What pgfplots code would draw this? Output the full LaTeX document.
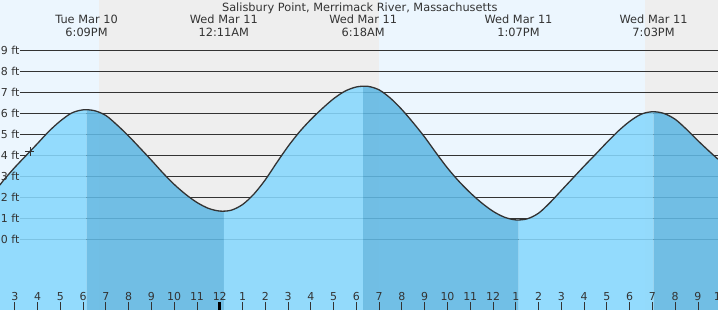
\documentclass[border=0pt]{standalone}
\usepackage{pgfplots}
\pgfplotsset{compat=1.18}
\usepgfplotslibrary{fillbetween}
\usepackage{pgfplotstable}
\usepackage{fontspec}
\setmainfont{DejaVu Sans}
\definecolor{daybg}{RGB}{236,246,254}
\definecolor{nightbg}{RGB}{238,238,238}
\definecolor{wlight}{RGB}{135,216,253}
\definecolor{wdark}{RGB}{96,184,227}
\definecolor{ink}{RGB}{51,51,51}
\tikzset{fill between/on layer=main}
\newcommand\lab{\fontsize{11.4}{13}\selectfont}
\newcommand\ylab{\fontsize{11}{13}\selectfont}

\pgfplotstableread{
t h
14.35 2.57
14.5 2.79
15.0 3.41
15.5 3.98
16.0 4.55
16.5 5.13
17.0 5.62
17.5 6.00
18.0 6.15
18.5 6.11
19.0 5.88
19.5 5.42
20.0 4.90
20.5 4.33
21.0 3.75
21.5 3.15
22.0 2.60
22.5 2.13
23.0 1.74
23.5 1.46
24.0 1.33
24.5 1.37
25.0 1.64
25.5 2.14
26.0 2.82
26.5 3.63
27.0 4.41
27.5 5.10
28.0 5.69
28.5 6.21
29.0 6.68
29.5 7.04
30.0 7.24
30.5 7.27
31.0 7.10
31.5 6.70
32.0 6.16
32.5 5.53
33.0 4.85
33.5 4.10
34.0 3.38
34.5 2.75
35.0 2.20
35.5 1.72
36.0 1.32
36.5 1.04
37.0 0.91
37.5 0.96
38.0 1.23
38.5 1.73
39.0 2.31
39.5 2.89
40.0 3.47
40.5 4.03
41.0 4.60
41.5 5.14
42.0 5.60
42.5 5.94
43.0 6.06
43.5 5.98
44.0 5.70
44.5 5.22
45.0 4.68
45.5 4.17
45.88 3.80
}\tidedata

\begin{document}
\begin{tikzpicture}
\begin{axis}[
 width=718bp, height=310bp, scale only axis,
 xmin=14.35, xmax=45.88, ymin=-3.38, ymax=11.38,
 axis x line*=bottom, axis y line=none,
 x axis line style={draw=none},
 xtick={15,...,45}, xticklabels={},
 extra x ticks={24}, extra x tick labels={},
 extra x tick style={major tick style={line width=3bp, color=black}},
 ytick=\empty,
 tick align=inside, major tick length=8bp,
 major tick style={line width=0.9bp, color=ink},
 axis on top,
]
% day / night background
\addplot[draw=none, fill=daybg] coordinates {(14.35,-3.38) (14.35,11.38) (18.70,11.38) (18.70,-3.38)} -- cycle;
\addplot[draw=none, fill=nightbg] coordinates {(18.70,-3.38) (18.70,11.38) (31.00,11.38) (31.00,-3.38)} -- cycle;
\addplot[draw=none, fill=daybg] coordinates {(31.00,-3.38) (31.00,11.38) (42.68,11.38) (42.68,-3.38)} -- cycle;
\addplot[draw=none, fill=nightbg] coordinates {(42.68,-3.38) (42.68,11.38) (45.88,11.38) (45.88,-3.38)} -- cycle;
% grid lines
\pgfplotsinvokeforeach{0,...,9}{\addplot[ink, line width=0.9bp] coordinates {(15.228,#1) (45.88,#1)};}
% water
\addplot[draw=none, name path=tide, smooth] table[x=t,y=h]{\tidedata};
\addplot[draw=none, name path=bot] coordinates {(14.35,-3.38) (45.88,-3.38)};
\addplot[draw=none, fill=wlight, fill opacity=0.88] fill between[of=tide and bot, soft clip={domain=14.35:18.15}];
\addplot[draw=none, fill=wdark, fill opacity=0.88] fill between[of=tide and bot, soft clip={domain=18.15:24.18}];
\addplot[draw=none, fill=wlight, fill opacity=0.88] fill between[of=tide and bot, soft clip={domain=24.18:30.30}];
\addplot[draw=none, fill=wdark, fill opacity=0.88] fill between[of=tide and bot, soft clip={domain=30.30:37.12}];
\addplot[draw=none, fill=wlight, fill opacity=0.88] fill between[of=tide and bot, soft clip={domain=37.12:43.05}];
\addplot[draw=none, fill=wdark, fill opacity=0.88] fill between[of=tide and bot, soft clip={domain=43.05:45.88}];
% tide curve
\addplot[ink, line width=1.3bp, smooth] table[x=t,y=h]{\tidedata};
\addplot[ink, only marks, mark=+, mark size=4.5bp, line width=0.9bp] coordinates {(15.667,4.15)};
% y labels
\pgfplotsinvokeforeach{0,...,9}{\node[anchor=east, inner sep=0pt, text=ink, font=\ylab] at (axis cs:15.206,#1) {#1 ft};}
% title and extreme labels
\node[anchor=base, inner sep=0pt, text=ink, font=\lab] at (axis cs:30.147,10.824) {Salisbury Point, Merrimack River, Massachusetts};
\node[anchor=base, inner sep=0pt, text=ink, font=\lab] at (axis cs:18.15,10.271) {Tue Mar 10};
\node[anchor=base, inner sep=0pt, text=ink, font=\lab] at (axis cs:18.15,9.633) {6:09PM};
\node[anchor=base, inner sep=0pt, text=ink, font=\lab] at (axis cs:24.18,10.271) {Wed Mar 11};
\node[anchor=base, inner sep=0pt, text=ink, font=\lab] at (axis cs:24.18,9.633) {12:11AM};
\node[anchor=base, inner sep=0pt, text=ink, font=\lab] at (axis cs:30.30,10.271) {Wed Mar 11};
\node[anchor=base, inner sep=0pt, text=ink, font=\lab] at (axis cs:30.30,9.633) {6:18AM};
\node[anchor=base, inner sep=0pt, text=ink, font=\lab] at (axis cs:37.12,10.271) {Wed Mar 11};
\node[anchor=base, inner sep=0pt, text=ink, font=\lab] at (axis cs:37.12,9.633) {1:07PM};
\node[anchor=base, inner sep=0pt, text=ink, font=\lab] at (axis cs:43.05,10.271) {Wed Mar 11};
\node[anchor=base, inner sep=0pt, text=ink, font=\lab] at (axis cs:43.05,9.633) {7:03PM};
% hour labels
\foreach \t/\l in {15/3,16/4,17/5,18/6,19/7,20/8,21/9,22/10,23/11,24/12,25/1,26/2,27/3,28/4,29/5,30/6,31/7,32/8,33/9,34/10,35/11,36/12,37/1,38/2,39/3,40/4,41/5,42/6,43/7,44/8,45/9}{
 \edef\temp{\noexpand\node[anchor=base, inner sep=0pt, text=ink, font=\noexpand\ylab] at (axis cs:\t,-2.905) {\l};}\temp
}
\node[overlay, anchor=base, inner sep=0pt, text=ink, font=\ylab] at (axis cs:46,-2.905) {10};
\end{axis}
\end{tikzpicture}
\end{document}
